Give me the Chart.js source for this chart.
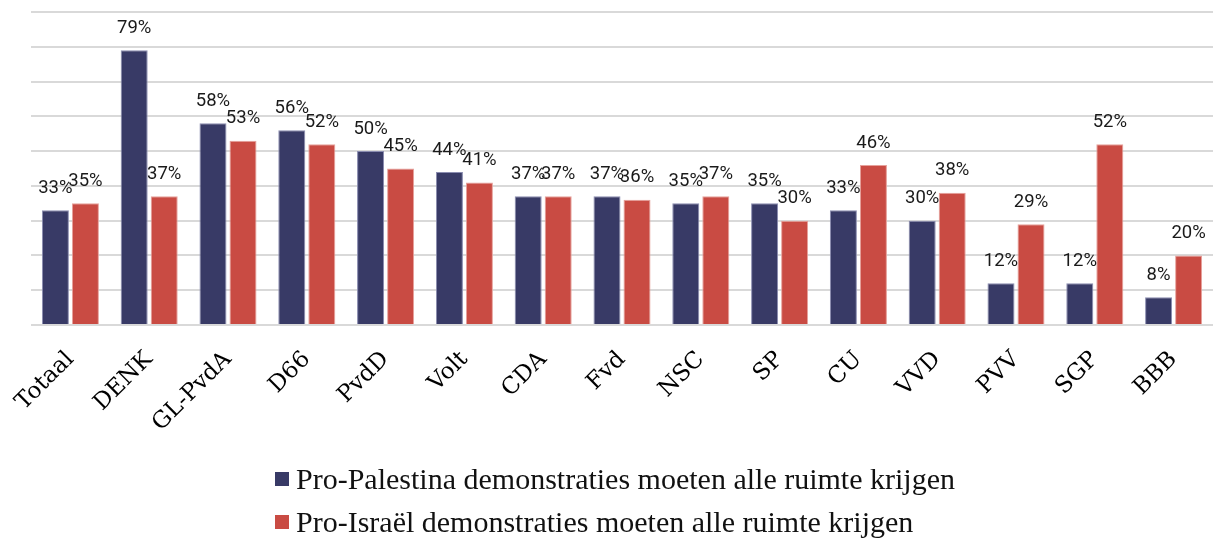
<!DOCTYPE html>
<html>
<head>
<meta charset="utf-8">
<script src="https://cdn.jsdelivr.net/npm/chart.js@4"></script>
<style>
  html, body { margin: 0; padding: 0; background: #fff; }
  #wrap { position: relative; width: 1213px; height: 538px; }
  #legend { position: absolute; left: 275px; top: 457px; font-family: "Liberation Serif", serif; font-size: 30px; color: #111; }
  .item { display: flex; align-items: center; height: 43px; white-space: nowrap; }
  .box { width: 14px; height: 14px; margin-right: 7px; }
</style>
</head>
<body>
<div id="wrap">
  <canvas id="grafica" width="1213" height="538"></canvas>
  <div id="legend"></div>
</div>
<script>
const partijen = ["Totaal", "DENK", "GL-PvdA", "D66", "PvdD", "Volt", "CDA", "Fvd", "NSC", "SP", "CU", "VVD", "PVV", "SGP", "BBB"];
const proPalestina = [33, 79, 58, 56, 50, 44, 37, 37, 35, 35, 33, 30, 12, 12, 8];
const proIsrael = [35, 37, 53, 52, 45, 41, 37, 36, 37, 30, 46, 38, 29, 52, 20];
const labelPal = "Pro-Palestina demonstraties moeten alle ruimte krijgen";
const labelIsr = "Pro-Israël demonstraties moeten alle ruimte krijgen";

const blauw = "#383a66";
const rood = "#c94b43";

// percentages boven de balken
const waardeLabels = {
  id: "waardeLabels",
  afterDatasetsDraw(chart) {
    const ctx = chart.ctx;
    ctx.save();
    ctx.font = "18.5px Roboto";
    ctx.fillStyle = "#1a1a1a";
    ctx.textAlign = "center";
    ctx.textBaseline = "middle";
    chart.data.datasets.forEach((ds, i) => {
      chart.getDatasetMeta(i).data.forEach((bar, j) => {
        ctx.fillText(ds.data[j] + "%", bar.x, bar.y - 22);
      });
    });
    ctx.restore();
  }
};

const grafica = new Chart(document.getElementById("grafica"), {
  type: "bar",
  data: {
    labels: partijen,
    datasets: [
      { label: labelPal, data: proPalestina, backgroundColor: blauw, borderColor: "#8a8cb0", borderWidth: 1 },
      { label: labelIsr, data: proIsrael, backgroundColor: rood, borderColor: "#e6a19b", borderWidth: 1 }
    ]
  },
  options: {
    responsive: false,
    animation: false,
    devicePixelRatio: 1,
    layout: { padding: { top: 12, left: 0, right: 0, bottom: 0 } },
    datasets: { bar: { categoryPercentage: 0.762, barPercentage: 0.9 } },
    plugins: { legend: { display: false }, tooltip: { enabled: false } },
    scales: {
      x: {
        grid: { display: false },
        border: { display: false },
        ticks: {
          color: "#000",
          font: { family: "DejaVu Serif", size: 23 },
          minRotation: 45,
          maxRotation: 45,
          autoSkip: false,
          padding: 13
        },
        afterFit(s) { s.height = 213; }
      },
      y: {
        min: 0,
        max: 90,
        ticks: { display: false, stepSize: 10 },
        grid: { color: "#d9d9d9", lineWidth: 2, drawTicks: false },
        border: { display: false },
        afterFit(s) { s.width = 31; }
      }
    }
  },
  plugins: [waardeLabels]
});

// legenda
const legend = document.getElementById("legend");
grafica.data.datasets.forEach(ds => {
  const item = document.createElement("div");
  item.className = "item";
  const box = document.createElement("span");
  box.className = "box";
  box.style.background = ds.backgroundColor;
  const txt = document.createElement("span");
  txt.textContent = ds.label;
  item.appendChild(box);
  item.appendChild(txt);
  legend.appendChild(item);
});
</script>
</body>
</html>
